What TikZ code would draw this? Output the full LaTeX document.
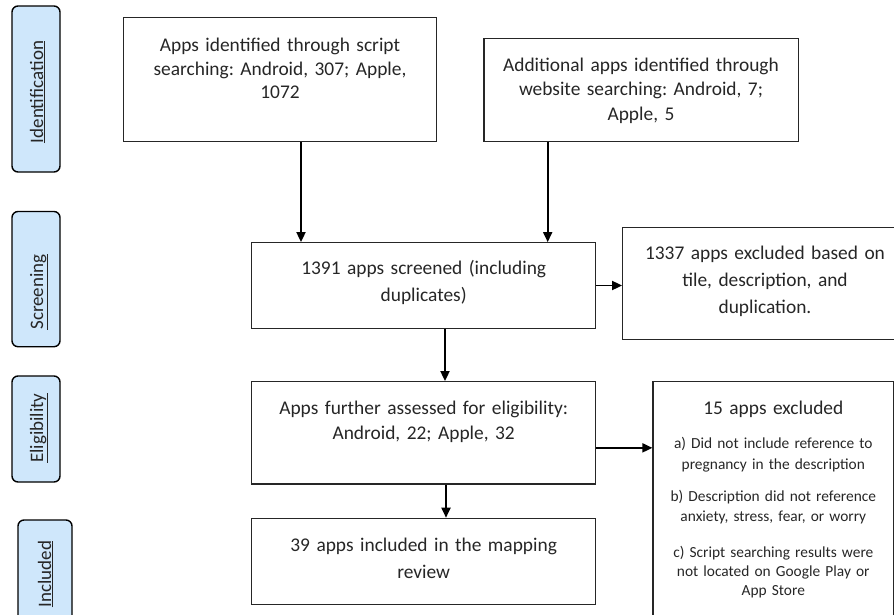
\documentclass[tikz,border=0pt]{standalone}
\usepackage{fontspec}
\setmainfont{Carlito}
\usetikzlibrary{arrows.meta,calc}
\definecolor{lblue}{HTML}{CFE7FB}
\definecolor{txtc}{HTML}{262626}
\newcommand{\myfs}[2]{\fontsize{#1}{#2}\selectfont}
\frenchspacing
\tikzset{
  box/.style={draw=black!85, line width=1.2pt, rectangle, inner sep=0pt},
  stage/.style={draw=black, line width=1.4pt, fill=lblue, rounded corners=6pt, inner sep=0pt},
  stagetxt/.style={rotate=90, anchor=base, inner sep=0pt, text=txtc, font=\myfs{19}{23}},
  txt/.style={anchor=north, inner sep=0pt, align=center, text=txtc},
  arr/.style={line width=1.8pt, -{Triangle[length=10pt,width=9pt]}}
}
\begin{document}
\begin{tikzpicture}[x=1pt,y=-1pt]
\useasboundingbox (0,0) rectangle (894,614);
% stage labels
\node[stage, minimum width=48pt, minimum height=166pt] (s1) at (36,89) {};
\node[stage, minimum width=48pt, minimum height=135.2pt] (s2) at (36,279.1) {};
\node[stage, minimum width=48pt, minimum height=106pt] (s3) at (36,429) {};
\node[stage, minimum width=54pt, minimum height=108pt] (s4) at (45,574) {};
\node[stagetxt] (l1) at (43,92) {\underline{Identification}};
\node[stagetxt] (l2) at (43,292) {\underline{Screening}};
\node[stagetxt] (l3) at (43,428) {\underline{Eligibility}};
\node[stagetxt] (l4) at (51,574) {\underline{Included}};
% boxes
\node[box, minimum width=313.4pt, minimum height=124.4pt] (b1) at (280,79.5) {};
\node[box, minimum width=314.3pt, minimum height=103.4pt] (b2) at (641.15,90) {};
\node[box, minimum width=344pt, minimum height=85.6pt] (scr) at (423.7,285.5) {};
\node[box, minimum width=282.3pt, minimum height=111.6pt] (ex1) at (763.85,283.5) {};
\node[box, minimum width=344pt, minimum height=102.3pt] (elig) at (423.7,432.85) {};
\node[box, minimum width=344pt, minimum height=86pt] (inc) at (423.7,561.3) {};
\node[box, minimum width=240.6pt, minimum height=243.3pt] (ex2) at (773.3,503.35) {};
% texts
\node[txt, text width=330pt, font=\myfs{19.4}{23.3}] (t1) at (280,35.2)
  {\strut Apps identified through script\\searching: Android, 307; Apple,\\1072};
\node[txt, text width=330pt, font=\myfs{19.4}{24.2}] (t2) at (641,54.6)
  {\strut Additional apps identified through\\website searching: Android, 7;\\Apple, 5};
\node[txt, text width=340pt, font=\myfs{19.4}{27}] (t3) at (423.7,255.6)
  {\strut 1391 apps screened (including\\duplicates)};
\node[txt, text width=300pt, font=\myfs{19.4}{26.7}] (t4) at (765,241.1)
  {\strut 1337 apps excluded based on\\tile, description, and\\duplication.};
\node[txt, text width=340pt, font=\myfs{19.4}{24.4}] (t5) at (423.7,397.7)
  {\strut Apps further assessed for eligibility:\\Android, 22; Apple, 32};
\node[txt, text width=340pt, font=\myfs{19.4}{26.7}] (t6) at (423.7,532.8)
  {\strut 39 apps included in the mapping\\review};
\node[txt, text width=240pt, font=\myfs{19.4}{23.5}] (t7) at (773.3,398)
  {\strut 15 apps excluded};
\node[txt, text width=240pt, font=\myfs{15.4}{20.7}] (t8) at (773.3,434.2)
  {\strut a) Did not include reference to\\pregnancy in the description};
\node[txt, text width=240pt, font=\myfs{15.4}{20}] (t9) at (773.3,487.6)
  {\strut b) Description did not reference\\anxiety, stress, fear, or worry};
\node[txt, text width=240pt, font=\myfs{15.4}{19.2}] (t10) at (773.3,543.7)
  {\strut c) Script searching results were\\not located on Google Play or\\App Store};
% connectors
\coordinate (a1s) at ([xshift=21pt]b1.south);
\coordinate (a2s) at ([xshift=-93.45pt]b2.south);
\coordinate (a3s) at ([xshift=21.3pt]scr.south);
\coordinate (a5s) at ([xshift=22.3pt]elig.south);
\coordinate (a6s) at ([yshift=-15pt]elig.east);
\draw[arr] (a1s) -- (a1s |- scr.north);
\draw[arr] (a2s) -- (a2s |- scr.north);
\draw[arr] (a3s) -- (a3s |- elig.north);
\draw[arr] (scr.east) -- (scr.east -| ex1.west);
\draw[arr] (a5s) -- (a5s |- inc.north);
\draw[arr] (a6s) -- (a6s -| ex2.west);
\end{tikzpicture}
\end{document}
